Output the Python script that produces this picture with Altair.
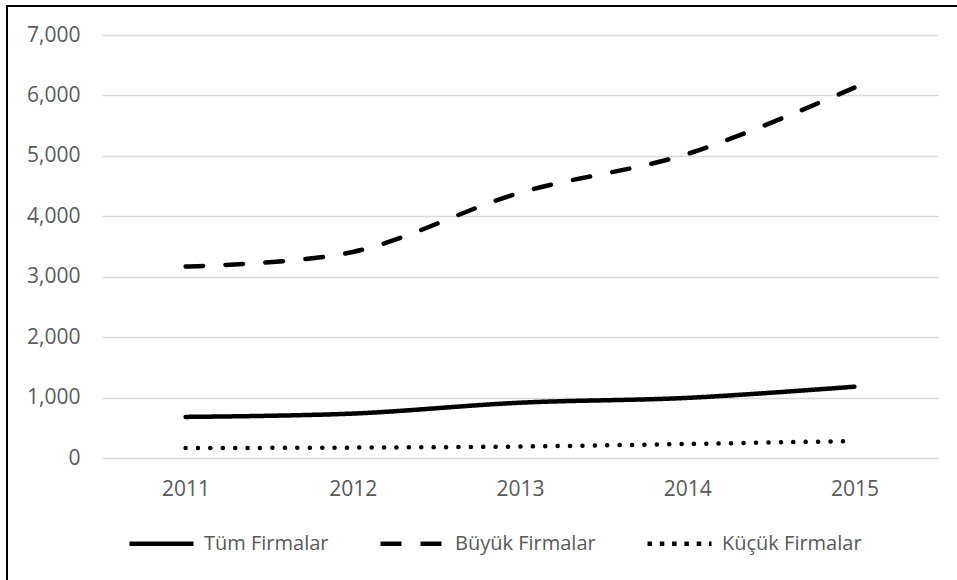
import altair as alt
import pandas as pd

# Yearly figures per firm group
years = ["2011", "2012", "2013", "2014", "2015"]
series_names = ["Tüm Firmalar", "Büyük Firmalar", "Küçük Firmalar"]
tum_firmalar = [680, 735, 915, 995, 1180]
buyuk_firmalar = [3170, 3410, 4390, 5030, 6130]
kucuk_firmalar = [165, 172, 190, 232, 282]

y_ticks = [0, 1000, 2000, 3000, 4000, 5000, 6000, 7000]

rows = []
for name, vals in zip(series_names, [tum_firmalar, buyuk_firmalar, kucuk_firmalar]):
    for yr, v in zip(years, vals):
        rows.append({"Yıl": yr, "Seri": name, "Değer": v})
df = pd.DataFrame(rows)

FONT = "Open Sans"
GREY = "#595959"

x_enc = alt.X("Yıl:O", sort=years, title=None,
              scale=alt.Scale(type="point", padding=0.5),
              axis=alt.Axis(labelAngle=0, domain=False, ticks=False, grid=False,
                            labelFont=FONT, labelFontSize=21, labelColor=GREY,
                            labelPadding=20))
y_enc = alt.Y("Değer:Q", title=None,
              scale=alt.Scale(domain=[0, 7000], nice=False),
              axis=alt.Axis(values=y_ticks, format=",.0f", domain=False, ticks=False,
                            grid=True, gridColor="#d9d9d9", gridWidth=1.3,
                            labelFont=FONT, labelFontSize=21, labelColor=GREY,
                            labelPadding=22))

# Drawn series: round caps turn the short dashes into dots
lines = alt.Chart(df).mark_line(
    strokeWidth=4.5, strokeCap="round", strokeJoin="round",
    interpolate="catmull-rom", color="black"
).encode(
    x=x_enc, y=y_enc,
    strokeDash=alt.StrokeDash(
        "Seri:N",
        scale=alt.Scale(domain=series_names,
                        range=[[1, 0], [17.5, 22.5], [0.1, 12.3]]),
        legend=None,
    ),
    detail="Seri:N",
)

# Invisible copy that only supplies the legend (legend symbols use butt caps)
legend_src = alt.Chart(df).mark_line(
    strokeWidth=4.5, opacity=0, color="black", interpolate="catmull-rom"
).encode(
    x=alt.X("Yıl:O", sort=years),
    y=alt.Y("Değer:Q"),
    strokeDash=alt.StrokeDash(
        "Seri:N",
        scale=alt.Scale(domain=series_names,
                        range=[[1, 0], [21, 19], [4.5, 7.8]]),
        legend=alt.Legend(
            title=None, orient="none", direction="horizontal",
            legendX=25, legendY=474, padding=0,
            symbolType="stroke", symbolSize=4096, symbolStrokeWidth=4.5,
            symbolStrokeColor="black", symbolOpacity=1,
            labelFont=FONT, labelFontSize=20, labelColor=GREY,
            labelOffset=8, columnPadding=42,
        ),
    ),
    detail="Seri:N",
)

# Outer frame edges (top and left)
frame_df = pd.DataFrame({"k": [0]})
frame_top = alt.Chart(frame_df).mark_rule(color="black", strokeWidth=2).encode(
    x=alt.value(-95), x2=alt.value(900), y=alt.value(-29)
)
frame_left = alt.Chart(frame_df).mark_rule(color="black", strokeWidth=2).encode(
    x=alt.value(-95), y=alt.value(-30), y2=alt.value(600)
)

chart = alt.layer(lines, legend_src, frame_top, frame_left).resolve_scale(
    strokeDash="independent"
).properties(
    width=836, height=423,
    padding={"left": 102, "top": 35, "right": 19, "bottom": 122},
    autosize=alt.AutoSizeParams(type="none"),
    background="white",
).configure_view(stroke=None)

chart.save("out.html", embed_options={"renderer": "svg", "actions": False})
